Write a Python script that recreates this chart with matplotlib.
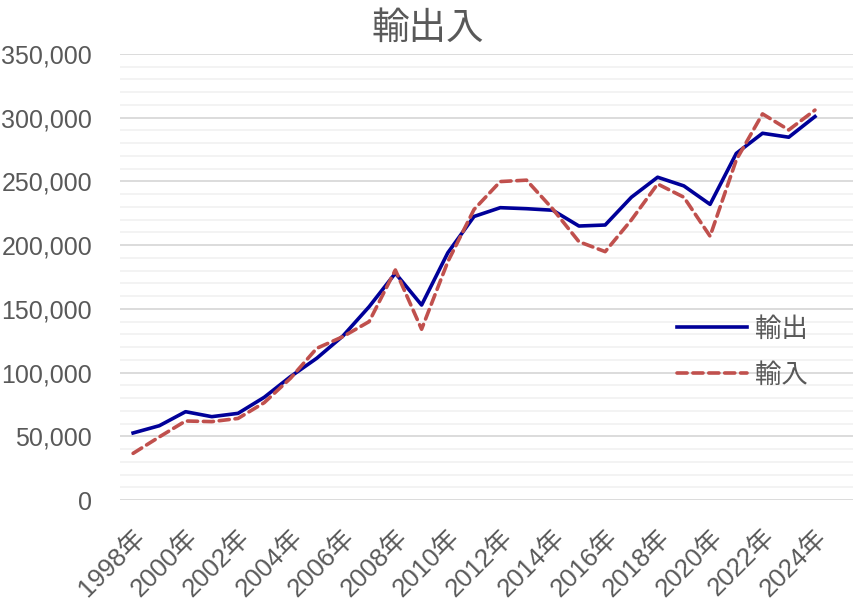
import matplotlib
matplotlib.use("Agg")
import matplotlib.pyplot as plt
from matplotlib.ticker import MultipleLocator, FuncFormatter

plt.rcParams['font.family'] = ['Liberation Sans', 'Noto Sans CJK JP', 'DejaVu Sans']

title = "輸出入"
years = [f"{y}年" for y in range(1998, 2025)]
exports = [52600, 58300, 69300, 65400, 68000, 80600, 96800, 111200, 128700, 151700,
           178000, 153000, 194000, 222500, 229400, 228600, 227400, 215000, 215800, 237600,
           253300, 246500, 232000, 272000, 287800, 284700, 300900]
imports = [36600, 49500, 62000, 61500, 64000, 76400, 95500, 119000, 128200, 140000,
           180500, 134000, 187000, 228000, 249900, 251000, 228400, 202700, 194900, 219800,
           248000, 237600, 207000, 266900, 303000, 290400, 306000]
series_names = ["輸出", "輸入"]

gray = "#595959"
fig = plt.figure(figsize=(8.56, 6.06), dpi=100)
ax = fig.add_axes([120/856, (606-500)/606, (853-120)/856, (500-54)/606])

x = list(range(len(years)))
ax.plot(x, exports, color="#000099", lw=2.6, label=series_names[0], solid_joinstyle='round')
ax.plot(x, imports, color="#C0504D", lw=2.6, label=series_names[1], dashes=(2.8, 1.6),
        dash_capstyle='round', dash_joinstyle='round')

ax.set_ylim(0, 350000)
ax.set_xlim(-0.5, 27.45)
ax.yaxis.set_major_locator(MultipleLocator(50000))
ax.yaxis.set_minor_locator(MultipleLocator(10000))
ax.yaxis.set_major_formatter(FuncFormatter(lambda v, p: f"{int(v):,}"))
ax.grid(which='minor', axis='y', color="#F2F2F2", lw=1.3)
ax.grid(which='major', axis='y', color="#D9D9D9", lw=1.3)
ax.set_axisbelow(True)
for s in ax.spines.values():
    s.set_visible(False)
ax.tick_params(axis='both', which='both', length=0)
ax.tick_params(axis='y', labelsize=18, labelcolor=gray, pad=20)

ax.set_xticks(x[::2])
ax.set_xticklabels(years[::2], rotation=45, ha='right', rotation_mode='anchor',
                   fontsize=18.5, color=gray)
ax.tick_params(axis='x', pad=18)

fig.text(428/856, 1 - 29/606, title, ha='center', va='center', fontsize=27, color=gray)

leg = ax.legend(loc='upper left', bbox_to_anchor=((677-120)/733, (500-317)/446),
                frameon=False, fontsize=19, labelcolor=gray, handlelength=2.65,
                handletextpad=0.3, labelspacing=0.8, borderpad=0, borderaxespad=0)

fig.savefig("out.png", dpi=100)
